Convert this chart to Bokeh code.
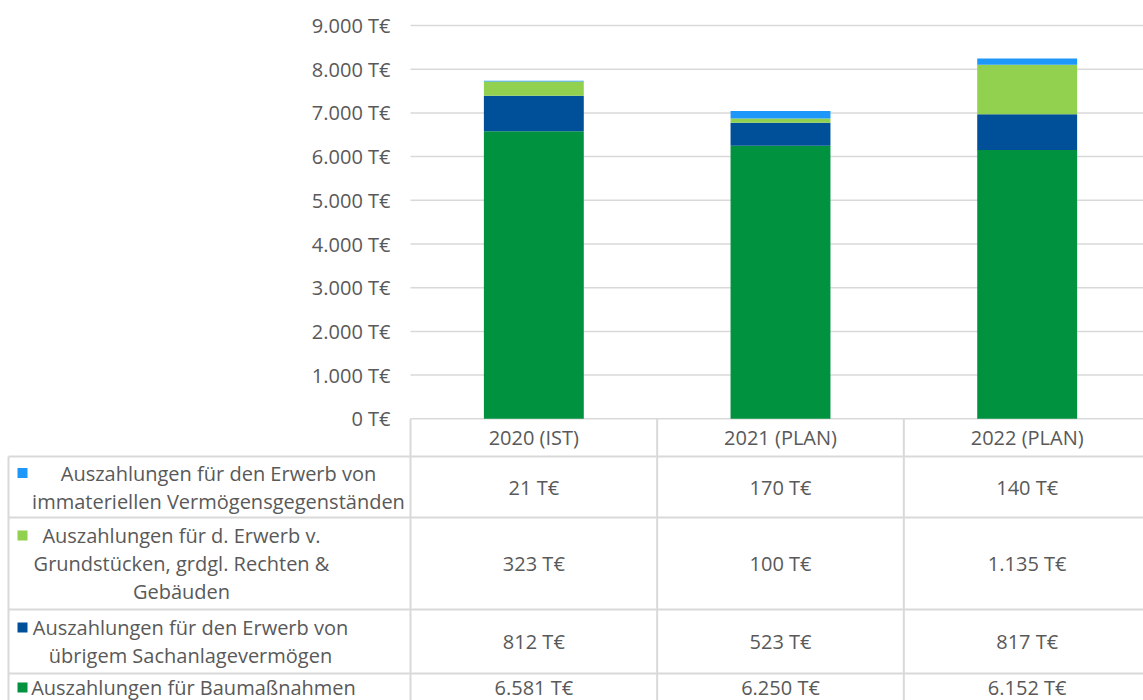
from bokeh.plotting import figure
from bokeh.models import ColumnDataSource, Range1d, FixedTicker
from bokeh.core.properties import value
from bokeh.embed import file_html
from bokeh.resources import INLINE

# ---------------- data ----------------
categories = ["2020 (IST)", "2021 (PLAN)", "2022 (PLAN)"]
baumassnahmen = [6581, 6250, 6152]
sachanlage = [812, 523, 817]
grundstuecke = [323, 100, 1135]
immateriell = [21, 170, 140]
y_ticks = [0, 1000, 2000, 3000, 4000, 5000, 6000, 7000, 8000, 9000]

# stacking order bottom -> top
series_keys = ["baumassnahmen", "sachanlage", "grundstuecke", "immateriell"]
series_values = [baumassnahmen, sachanlage, grundstuecke, immateriell]
series_colors = ["#00923F", "#004F99", "#92D050", "#1E97FA"]
series_label_lines = [
    ["Auszahlungen für Baumaßnahmen"],
    ["Auszahlungen für den Erwerb von", "übrigem Sachanlagevermögen"],
    ["Auszahlungen für d. Erwerb v.", "Grundstücken, grdgl. Rechten &", "Gebäuden"],
    ["Auszahlungen für den Erwerb von", "immateriellen Vermögensgegenständen"],
]

# ---------------- layout constants (pixels) ----------------
FONT = "Open Sans"
TXT = "#595959"
GRID = "#D9D9D9"
W, H = 1143, 700
LEFT = 410          # x of plot area / table's first category column
CAT_W = 246.67      # width of a category column
TOP = 25            # y of the 9000 gridline
ZERO = 418.3        # y of the 0 gridline
LINE_H = 28
U = (y_ticks[-1] - y_ticks[0]) / (ZERO - TOP)   # data units per pixel


def fmt(v):
    return f"{v:,}".replace(",", ".") + " T€"


p = figure(width=W, height=H,
           x_range=Range1d(-LEFT / CAT_W, (W - LEFT) / CAT_W),
           y_range=Range1d(-(H - ZERO) * U, y_ticks[-1] + TOP * U),
           output_backend="svg", toolbar_location=None,
           x_axis_location=None, y_axis_location="left",
           min_border=0, min_border_left=0, min_border_right=0,
           min_border_top=0, min_border_bottom=0,
           outline_line_color=None, background_fill_color="white",
           border_fill_color="white")
p.grid.visible = False
p.extra_x_ranges = {"px": Range1d(0, W)}
p.extra_y_ranges = {"px": Range1d(H, 0)}

# ---------------- gridlines ----------------
x_end = (W - LEFT) / CAT_W
p.segment(x0=[0] * len(y_ticks), y0=y_ticks, x1=[x_end] * len(y_ticks), y1=y_ticks,
          line_color=GRID, line_width=1.5)

# ---------------- stacked bars ----------------
xs = [i + 0.5 for i in range(len(categories))]
src = ColumnDataSource(dict(x=xs, **{k: v for k, v in zip(series_keys, series_values)}))
p.vbar_stack(series_keys, x="x", width=0.405, color=series_colors,
             line_color=None, source=src)

# ---------------- y axis (drawn at x = 0) ----------------
ax = p.yaxis[0]
ax.fixed_location = 0
ax.ticker = FixedTicker(ticks=y_ticks)
ax.major_label_overrides = {t: fmt(t) for t in y_ticks}
ax.axis_line_color = None
ax.major_tick_line_color = None
ax.minor_tick_line_color = None
ax.major_tick_out = 0
ax.major_tick_in = 0
ax.major_label_standoff = 20
ax.major_label_text_font = FONT
ax.major_label_text_font_size = "20px"
ax.major_label_text_color = TXT

# ---------------- data table (pixel coordinates) ----------------
HEAD_Y = 437
row_tops = [456, 517, 609, 673]
row_bottoms = [517, 609, 673, 701]
row_xc = [218, 181, 190, 193]   # centre of legend text per table row

col_x = [LEFT + i * CAT_W for i in range(len(categories))]

# horizontal borders
p.segment(x0=[8] * len(row_tops), y0=row_tops, x1=[W] * len(row_tops), y1=row_tops,
          line_color=GRID, line_width=2, x_range_name="px", y_range_name="px")
# vertical borders
vx = [8] + col_x
vy0 = [row_tops[0]] + [ZERO] * len(col_x)
p.segment(x0=vx, y0=vy0, x1=vx, y1=[H] * len(vx),
          line_color=GRID, line_width=2, x_range_name="px", y_range_name="px")

# header row
p.text(x=[c + CAT_W / 2 for c in col_x], y=[HEAD_Y] * len(categories), text=categories,
       text_align="center", text_baseline="middle",
       text_font=value(FONT), text_font_size="20px", text_color=TXT,
       x_range_name="px", y_range_name="px")

order = list(range(len(series_keys)))[::-1]   # table top row = top of stack
lx, ly, lt = [], [], []
mx, my, mc = [], [], []
vxs, vys, vts = [], [], []
for r, s in enumerate(order):
    yc = (row_tops[r] + row_bottoms[r]) / 2
    lines = series_label_lines[s]
    n = len(lines)
    for k, line in enumerate(lines):
        lx.append(row_xc[r])
        ly.append(yc + (k - (n - 1) / 2) * LINE_H)
        lt.append(line)
    mx.append(22)
    my.append(yc - (n - 1) / 2 * LINE_H)
    mc.append(series_colors[s])
    for i, v in enumerate(series_values[s]):
        vxs.append(col_x[i] + CAT_W / 2)
        vys.append(yc)
        vts.append(fmt(v))

p.text(x=lx, y=ly, text=lt, text_align="center", text_baseline="middle",
       text_font=value(FONT), text_font_size="20px", text_color=TXT,
       x_range_name="px", y_range_name="px")
p.scatter(x=mx, y=my, marker="square", size=10, color=mc, line_color=None,
          x_range_name="px", y_range_name="px")
p.text(x=vxs, y=vys, text=vts, text_align="center", text_baseline="middle",
       text_font=value(FONT), text_font_size="20px", text_color=TXT,
       x_range_name="px", y_range_name="px")

open("out.html", "w").write(file_html(p, INLINE))
